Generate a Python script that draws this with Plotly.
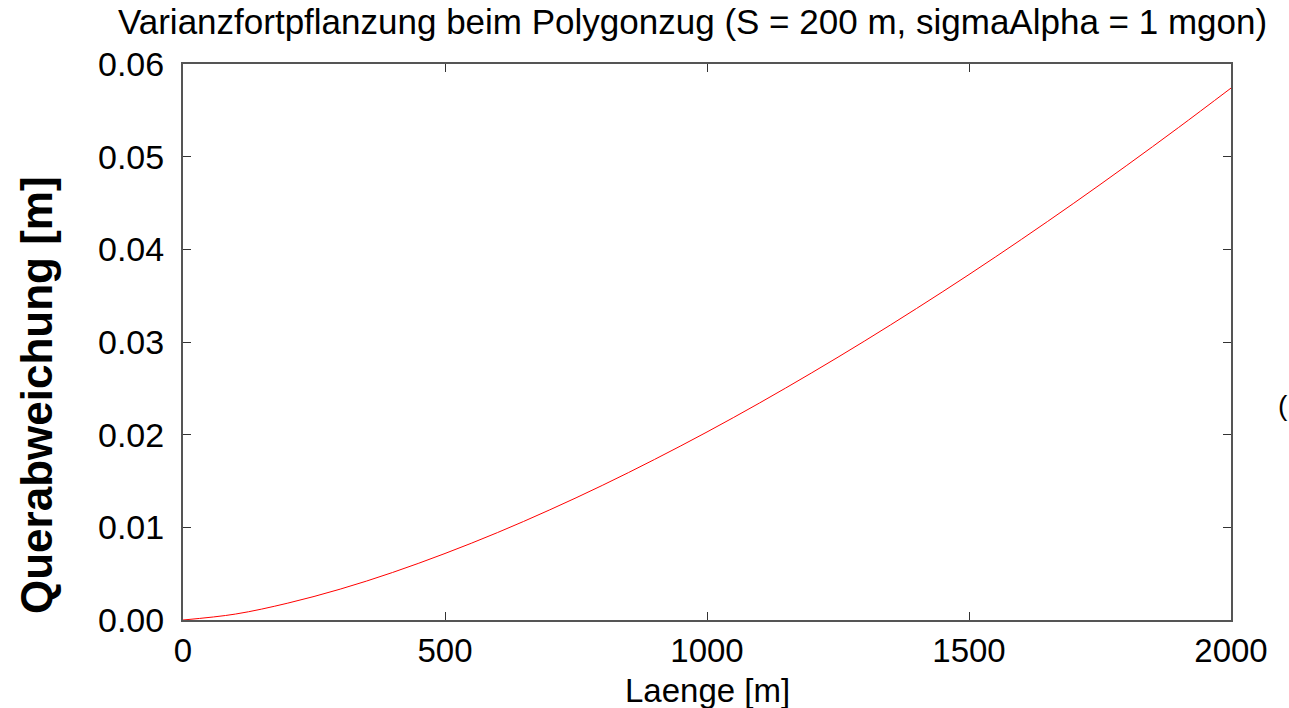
import plotly.graph_objects as go

laenge = [0, 100, 200, 300, 400, 500, 600, 700, 800, 900, 1000,
          1100, 1200, 1300, 1400, 1500, 1600, 1700, 1800, 1900, 2000]
querabweichung = [0.0, 0.00064, 0.00182, 0.00333, 0.00513, 0.00718, 0.00943,
                  0.01189, 0.01452, 0.01733, 0.02029, 0.02341, 0.02668,
                  0.03008, 0.03362, 0.03728, 0.04107, 0.04498, 0.04901,
                  0.05315, 0.0574]
x_ticks = [0, 500, 1000, 1500, 2000]
y_ticks = [0.0, 0.01, 0.02, 0.03, 0.04, 0.05, 0.06]
y_ticktext = ["0.00", "0.01", "0.02", "0.03", "0.04", "0.05", "0.06"]

title = "Varianzfortpflanzung beim Polygonzug (S = 200 m, sigmaAlpha = 1 mgon)"
x_title = "Laenge [m]"
y_title = "Querabweichung [m]"

font = "Liberation Sans, Arial, sans-serif"

fig = go.Figure()
fig.add_trace(go.Scatter(x=laenge, y=querabweichung, mode="lines",
                         line=dict(color="#ff0000", width=1, shape="spline"),
                         showlegend=False))

fig.update_layout(
    width=1289, height=708,
    margin=dict(l=183, r=58, t=64, b=88),
    paper_bgcolor="white", plot_bgcolor="white",
    font=dict(family=font, color="black"),
    title=dict(text=title, x=118/1289, xanchor="left", xref="container",
               y=1 - 22/708, yanchor="middle", yref="container",
               font=dict(size=35, family=font, color="black")),
)
fig.add_annotation(text=x_title, xref="paper", yref="paper",
                   x=0.5, y=-70/556, xanchor="center", yanchor="middle",
                   showarrow=False, font=dict(size=33, family=font, color="black"))
fig.add_annotation(text="<b>" + y_title + "</b>", xref="paper", yref="paper",
                   x=-147/1048, y=(620-395)/556, xanchor="center", yanchor="middle",
                   textangle=-90, showarrow=False,
                   font=dict(size=44, family=font, color="black"))
fig.add_annotation(text="(", xref="paper", yref="paper",
                   x=(1289-183)/1048, y=(620-405)/556, xanchor="right", yanchor="middle",
                   borderpad=0, showarrow=False,
                   font=dict(size=28, family=font, color="black"))

fig.update_xaxes(range=[0, 2000], tickvals=x_ticks, ticks="inside", ticklen=8,
                 tickcolor="#333", linecolor="#555", linewidth=2, mirror="ticks",
                 showgrid=False, zeroline=False,
                 tickfont=dict(size=33, family=font))
fig.update_yaxes(range=[0, 0.06], tickvals=y_ticks, ticktext=y_ticktext,
                 ticks="inside", ticklen=8, ticklabelstandoff=10,
                 tickcolor="#333", linecolor="#555", linewidth=2, mirror="ticks",
                 showgrid=False, zeroline=False,
                 tickfont=dict(size=34, family=font))

fig.write_html("out.html")
